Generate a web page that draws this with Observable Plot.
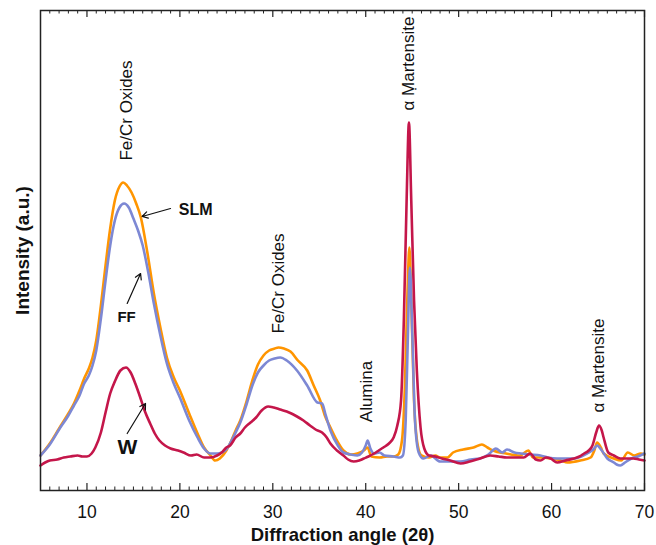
<!DOCTYPE html>
<html><head><meta charset="utf-8">
<script src="https://cdn.jsdelivr.net/npm/d3@7"></script>
<script src="https://cdn.jsdelivr.net/npm/@observablehq/plot@0.6"></script>
<style>
body{margin:0;background:#fff}
#chart svg{display:block;background:linear-gradient(#f9f9f9,#f9f9f9) 12px 9px / 640px 532px no-repeat #fff}
</style>
</head><body><div id="chart"></div>
<script>
// Diffraction angle (2θ) and intensity (a.u.) for each sample
const slmAngle = [5.0,6.0,7.0,8.0,8.6,9.2,9.7,10.2,10.6,11.0,11.5,12.0,12.5,13.0,13.5,13.9,14.3,14.8,15.3,15.8,16.5,17.2,17.9,18.6,19.3,20.0,21.0,21.9,22.6,23.3,23.8,24.3,25.0,25.4,26.0,26.5,27.2,27.8,28.4,29.0,29.6,30.2,30.6,31.2,31.9,32.7,33.7,34.4,35.1,35.6,36.2,36.9,37.6,38.4,39.1,39.8,40.2,40.6,41.5,42.3,43.0,43.5,43.9,44.2,44.5,44.7,44.9,45.2,45.6,46.0,46.8,47.5,48.0,48.8,49.4,50.5,51.6,52.5,53.1,53.7,55.1,56.6,57.5,58.0,59.0,59.9,61.0,61.7,63.1,64.2,64.6,64.9,65.3,65.6,66.7,67.5,68.2,68.9,69.6,70.0];
const slmIntensity = [35,47,62,77,87,100,112,122,133,150,185,225,262,290,304,308,305,298,287,273,238,197,163,133,114,100,77,57,43,35,30,32,40,47,60,70,90,110,126,135,140,142,143,142,139,130,120,105,90,75,63,50,40,36,37,40,43,34,33,34,34,36,50,100,200,243,190,90,45,35,33,35,33,33,38,41,43,46,43,40,37,35,40,33,33,32,30,28,30,33,40,48,43,37,32,30,38,35,37,36];

const ffAngle = [5.0,6.0,7.0,8.0,8.6,9.2,9.7,10.2,10.6,11.0,11.5,12.0,12.5,13.0,13.5,14.0,14.5,15.0,15.5,16.0,16.6,17.2,17.9,18.6,19.3,20.0,21.0,21.9,22.6,23.3,24.0,24.5,25.0,25.4,26.0,26.5,27.2,27.8,28.4,29.0,29.6,30.2,30.8,31.5,32.6,33.7,34.8,35.3,35.7,36.2,37.0,37.6,38.4,39.1,39.6,40.0,40.2,40.5,40.9,41.5,42.0,43.0,43.7,44.0,44.3,44.55,44.75,45.0,45.3,45.7,46.2,47.0,48.0,49.1,50.2,51.3,52.3,53.2,54.0,54.7,55.2,56.0,56.7,57.7,58.8,59.6,60.6,61.5,62.4,63.2,63.8,64.5,64.9,65.4,66.0,66.7,67.0,67.4,67.9,68.6,69.3,70.0];
const ffIntensity = [35,46,61,75,85,95,107,115,125,140,172,210,245,270,283,287,283,272,260,245,218,187,155,127,108,93,70,53,42,37,37,38,41,47,58,68,87,105,118,125,130,132,133,130,120,105,88,87,75,60,45,38,36,35,38,45,50,42,37,38,35,34,33,35,70,160,223,160,70,38,32,35,29,29,29,31,32,36,42,38,41,38,37,36,35,33,32,32,32,34,37,41,45,40,32,28,26,25,28,32,34,37];

const wAngle = [5.0,5.5,6.0,6.8,7.5,8.2,9.0,9.5,10.0,10.5,10.9,11.5,12.0,12.5,13.0,13.6,14.2,14.7,15.2,15.7,16.2,16.8,17.3,17.8,18.4,19.0,19.8,20.4,21.2,21.8,22.6,23.3,24.0,24.5,25.0,25.4,26.0,26.5,27.0,27.6,28.2,28.8,29.5,30.1,30.8,31.5,32.0,32.6,33.3,34.0,34.6,35.3,35.8,36.2,36.9,37.6,38.1,38.7,39.3,39.8,40.3,40.9,41.4,41.9,42.5,43.0,43.4,43.8,44.1,44.4,44.65,44.9,45.2,45.5,45.9,46.3,46.8,47.5,48.2,49.1,50.2,51.2,52.3,53.4,54.3,55.2,56.2,57.0,57.7,58.3,58.8,59.4,59.9,60.6,61.5,62.4,63.0,63.5,64.0,64.4,64.8,65.1,65.4,65.6,66.1,66.7,67.4,68.1,68.8,69.4,70.0];
const wIntensity = [25,28,30,31,33,34,35,34,34,37,43,58,78,97,109,120,123,118,107,94,80,67,57,50,45,42,40,38,35,36,33,33,35,38,43,45,53,57,63,68,73,80,84,83,81,79,77,74,70,65,61,58,53,47,40,35,31,29,30,32,34,37,40,43,47,53,65,90,170,290,368,290,190,120,63,42,35,34,32,30,27,29,32,35,34,33,33,33,37,31,30,33,32,28,30,32,34,37,40,45,58,65,60,53,38,35,32,32,32,31,30];

const seriesNames = ["SLM", "FF", "W"];
const seriesColors = ["#ff9500", "#7d88d4", "#c4164a"];

const xTicks = [10, 20, 30, 40, 50, 60, 70];
const xMinorTicks = d3.range(6, 70).filter(d => d % 10 !== 0);

// Peak annotations (angle, intensity)
const peakLabels = ["Fe/Cr Oxides", "Fe/Cr Oxides", "α Ṃartensite", "Alumina", "α Ṃartensite"];
const peakAngle = [14.26, 30.6, 44.6, 40.1, 65.05];
const peakIntensity = [380, 207, 427, 99, 125];

// Sample labels and arrows
const sampleLabels = ["SLM", "FF", "W"];
const sampleLabelAngle = [21.7, 14.26, 14.36];
const sampleLabelIntensity = [281, 173, 43];
const sampleLabelSize = [16, 15, 21];
const arrowFromAngle = [18.99, 14.33, 14.33];
const arrowFromIntensity = [282, 187, 57];
const arrowToAngle = [15.94, 15.77, 16.3];
const arrowToIntensity = [274, 217, 87];

const rows = [];
[[slmAngle, slmIntensity], [ffAngle, ffIntensity], [wAngle, wIntensity]].forEach(([a, v], i) => {
  a.forEach((x, j) => rows.push({series: seriesNames[i], angle: x, intensity: v[j]}));
});
const peaks = peakLabels.map((t, i) => ({t, x: peakAngle[i], y: peakIntensity[i]}));
const samples = sampleLabels.map((t, i) => ({t, x: sampleLabelAngle[i], y: sampleLabelIntensity[i], s: sampleLabelSize[i],
  x1: arrowFromAngle[i], y1: arrowFromIntensity[i], x2: arrowToAngle[i], y2: arrowToIntensity[i]}));

const font = "'Liberation Sans', Arial, sans-serif";
const chart = Plot.plot({
  width: 656,
  height: 545,
  marginLeft: 40,
  marginTop: 10,
  marginRight: 12,
  marginBottom: 55,
  style: {fontFamily: font, background: "transparent", color: "#111"},
  x: {domain: [5, 70]},
  y: {domain: [0, 480], axis: null},
  color: {domain: seriesNames, range: seriesColors},
  marks: [
    Plot.line(rows, {x: "angle", y: "intensity", z: "series", stroke: "series", strokeWidth: 2.6, curve: "monotone-x"}),
    Plot.ruleX(xTicks, {x: d => d, y1: 0, y2: 7, stroke: "#222", strokeWidth: 1.2}),
    Plot.ruleX(xMinorTicks, {x: d => d, y1: 0, y2: 3.5, stroke: "#222", strokeWidth: 1}),
    Plot.ruleX(xTicks, {x: d => d, y1: 480, y2: 473, stroke: "#222", strokeWidth: 1.2}),
    Plot.ruleX(xMinorTicks, {x: d => d, y1: 480, y2: 476.5, stroke: "#222", strokeWidth: 1}),
    Plot.frame({stroke: "#222", strokeWidth: 1.5}),
    Plot.axisX({ticks: xTicks, tickSize: 0, tickPadding: 15, fontSize: 17.5, label: null}),
    Plot.text(["Diffraction angle (2θ)"], {frameAnchor: "bottom", textAnchor: "middle", lineAnchor: "middle", dy: 45, fontSize: 18.5, fontWeight: "bold", fill: "#111"}),
    Plot.text(["Intensity (a.u.)"], {frameAnchor: "left", textAnchor: "middle", lineAnchor: "middle", dx: -18, rotate: -90, fontSize: 19, fontWeight: "bold", fill: "#111"}),
    Plot.text(peaks, {x: "x", y: "y", text: "t", rotate: -90, fontSize: 17, fill: "#111"}),
    Plot.text(samples, {x: "x", y: "y", text: "t", fontSize: d => d.s, fontWeight: "bold", fill: "#111"}),
    Plot.arrow(samples, {x1: "x1", y1: "y1", x2: "x2", y2: "y2", stroke: "#111", strokeWidth: 1.2, headLength: 8})
  ]
});
document.getElementById("chart").append(chart);
</script>
</body></html>
